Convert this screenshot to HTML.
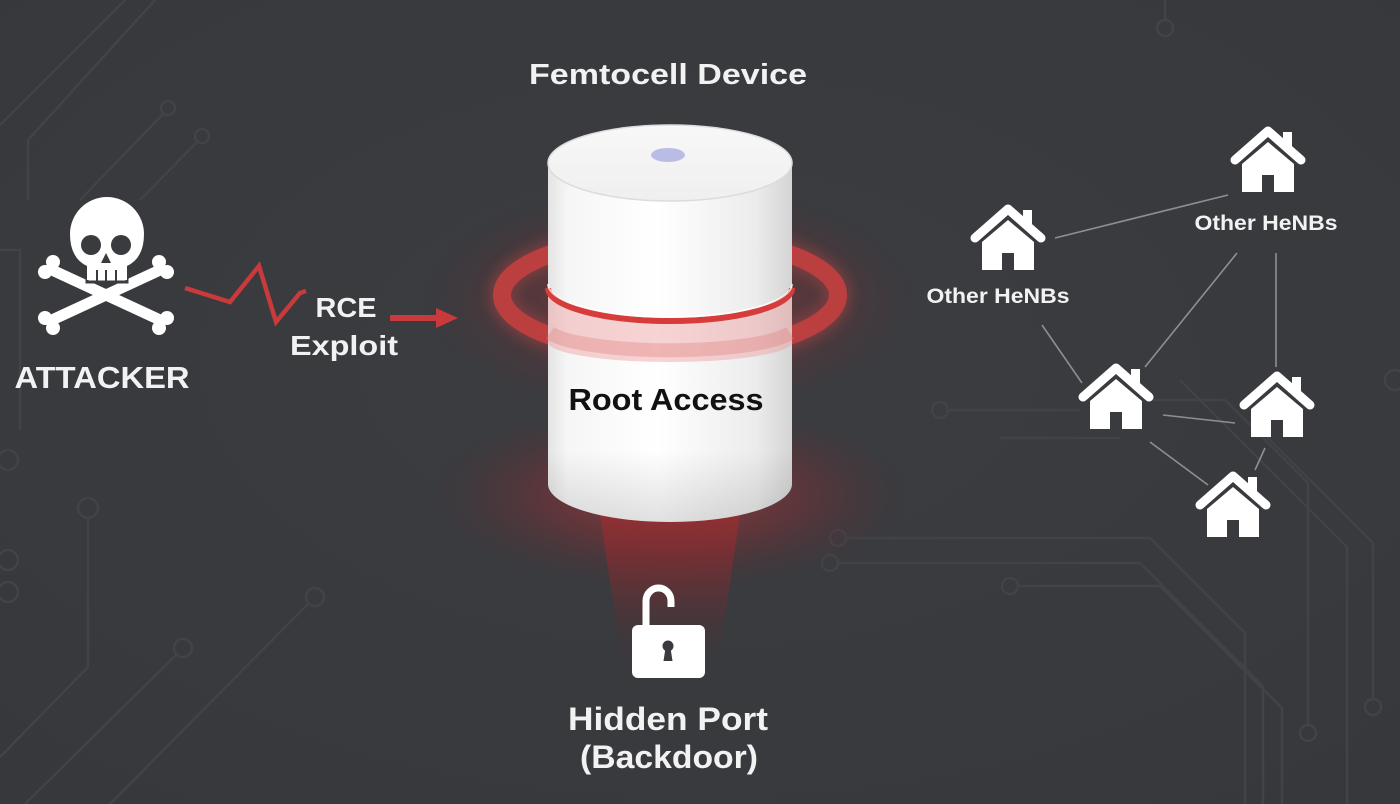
<!DOCTYPE html>
<html><head><meta charset="utf-8"><style>
html,body{margin:0;padding:0;background:#393b3f;}
svg{display:block;}
text{font-family:"Liberation Sans",sans-serif;font-weight:bold;}
</style></head><body>
<svg width="1400" height="804" viewBox="0 0 1400 804" xmlns="http://www.w3.org/2000/svg">
<defs>
  <radialGradient id="bg" cx="50%" cy="45%" r="75%">
    <stop offset="0" stop-color="#3b3d41"/>
    <stop offset="1" stop-color="#36383c"/>
  </radialGradient>
  <radialGradient id="glowMid" cx="50%" cy="50%" r="50%">
    <stop offset="0" stop-color="#b0363a" stop-opacity="0.55"/>
    <stop offset="0.6" stop-color="#8a2e33" stop-opacity="0.3"/>
    <stop offset="1" stop-color="#5a2a2e" stop-opacity="0"/>
  </radialGradient>
  <radialGradient id="glowBot" cx="50%" cy="50%" r="50%">
    <stop offset="0" stop-color="#b83a3e" stop-opacity="0.75"/>
    <stop offset="0.55" stop-color="#8a2e33" stop-opacity="0.4"/>
    <stop offset="1" stop-color="#5a2a2e" stop-opacity="0"/>
  </radialGradient>
  <linearGradient id="beam" x1="0" y1="0" x2="0" y2="1">
    <stop offset="0" stop-color="#9a3034" stop-opacity="0.95"/>
    <stop offset="0.5" stop-color="#7a2c30" stop-opacity="0.55"/>
    <stop offset="1" stop-color="#4a2a2e" stop-opacity="0"/>
  </linearGradient>
  <linearGradient id="body" x1="0" y1="0" x2="1" y2="0">
    <stop offset="0" stop-color="#e4e4e4"/>
    <stop offset="0.08" stop-color="#f6f6f6"/>
    <stop offset="0.45" stop-color="#ffffff"/>
    <stop offset="0.85" stop-color="#ececec"/>
    <stop offset="1" stop-color="#d4d4d4"/>
  </linearGradient>
  <linearGradient id="bodyV" x1="0" y1="0" x2="0" y2="1">
    <stop offset="0" stop-color="#000" stop-opacity="0"/>
    <stop offset="0.8" stop-color="#000" stop-opacity="0"/>
    <stop offset="1" stop-color="#000" stop-opacity="0.12"/>
  </linearGradient>
  <linearGradient id="top" x1="0" y1="0" x2="0" y2="1">
    <stop offset="0" stop-color="#f8f8f8"/>
    <stop offset="1" stop-color="#efefef"/>
  </linearGradient>
  <filter id="blur6" x="-30%" y="-30%" width="160%" height="160%"><feGaussianBlur stdDeviation="6"/></filter>
  <g id="house">
    <rect x="15" y="0" width="9" height="16" fill="#fff"/>
    <path d="M-33,28 L0,-1 L33,28" fill="none" stroke="#fff" stroke-width="9" stroke-linecap="round" stroke-linejoin="round"/>
    <path d="M0,10 L-26,32 L-26,60 L-6,60 L-6,43 L6,43 L6,60 L26,60 L26,32 Z" fill="#fff"/>
  </g>
</defs>

<rect width="1400" height="804" fill="url(#bg)"/>

<!-- faint circuit traces -->
<g fill="none" stroke="#414347" stroke-width="2.5">
  <path d="M0,125 L125,0"/>
  <path d="M28,200 L28,140 L155,0"/>
  <circle cx="168" cy="108" r="7"/>
  <path d="M163,114 L80,200"/>
  <circle cx="202" cy="136" r="7"/>
  <path d="M197,142 L140,200"/>
  <circle cx="88" cy="508" r="10"/>
  <path d="M88,518 L88,667 L0,757"/>
  <circle cx="183" cy="648" r="9"/>
  <path d="M176,655 L25,804"/>
  <circle cx="315" cy="597" r="9"/>
  <path d="M308,604 L110,804"/>
  <circle cx="8" cy="460" r="10"/>
  <circle cx="8" cy="560" r="10"/>
  <circle cx="8" cy="592" r="10"/>
  <path d="M0,250 L20,250 L20,430"/>
  <circle cx="838" cy="538" r="8"/>
  <path d="M846,538 L1150,538 L1245,633 L1245,804"/>
  <circle cx="830" cy="563" r="8"/>
  <path d="M838,563 L1140,563 L1263,686 L1263,804"/>
  <circle cx="1010" cy="586" r="8"/>
  <path d="M1018,586 L1160,586 L1282,708 L1282,804"/>
  <path d="M1150,400 L1225,400 L1308,483 L1308,725"/>
  <circle cx="1308" cy="733" r="8"/>
  <path d="M1180,380 L1240,440 L1347,547 L1347,804"/>
  <path d="M1260,430 L1373,543 L1373,700"/>
  <circle cx="1373" cy="707" r="8"/>
  <circle cx="1395" cy="380" r="10"/>
  <circle cx="940" cy="410" r="8"/>
  <path d="M948,410 L1080,410"/>
  <path d="M1000,438 L1120,438"/>
  <path d="M1165,0 L1165,20"/>
  <circle cx="1165" cy="28" r="8"/>
</g>

<!-- red glows -->
<ellipse cx="670" cy="300" rx="250" ry="120" fill="url(#glowMid)"/>
<ellipse cx="670" cy="495" rx="240" ry="95" fill="url(#glowBot)"/>
<polygon points="598,500 742,500 718,665 622,665" fill="url(#beam)"/>

<!-- halo ring (back) -->
<ellipse cx="670" cy="295" rx="168" ry="58" fill="none" stroke="#d0484a" stroke-width="26" opacity="0.35" filter="url(#blur6)"/>
<ellipse cx="670" cy="295" rx="168" ry="58" fill="none" stroke="#c8403f" stroke-width="18" opacity="0.85"/>

<!-- cylinder -->
<path d="M548,163 L548,484 A122,38 0 0 0 792,484 L792,163 Z" fill="url(#body)"/>
<path d="M548,163 L548,484 A122,38 0 0 0 792,484 L792,163 Z" fill="url(#bodyV)"/>
<ellipse cx="670" cy="163" rx="122" ry="38" fill="url(#top)" stroke="#dcdcdc" stroke-width="1.5"/>
<ellipse cx="668" cy="155" rx="17" ry="7" fill="#b9bde6"/>

<!-- pink band -->
<path d="M548,288 A122,33 0 0 0 792,288 L792,343 A122,20 0 0 1 670,362 A122,20 0 0 1 548,343 Z" fill="#ef9d9d" opacity="0.45"/>
<path d="M550,333 A125,24 0 0 0 790,333" fill="none" stroke="#e07a7a" stroke-width="14" opacity="0.35"/>
<path d="M548,288 A122,33 0 0 0 792,288" fill="none" stroke="#d63c3a" stroke-width="6"/>
<path d="M548,284 A122,33 0 0 0 792,284" fill="none" stroke="#ffffff" stroke-width="2" opacity="0.7"/>

<text x="666" y="410" font-size="31" fill="#111" text-anchor="middle" textLength="195" lengthAdjust="spacingAndGlyphs">Root Access</text>

<text x="668" y="84" font-size="29" fill="#f2f2f2" text-anchor="middle" textLength="278" lengthAdjust="spacingAndGlyphs">Femtocell Device</text>

<!-- skull & crossbones -->
<g fill="#fff" stroke="none">
  <g stroke="#fff" stroke-width="11" stroke-linecap="round">
    <line x1="52" y1="270" x2="160" y2="320"/>
    <line x1="160" y1="270" x2="52" y2="320"/>
  </g>
  <circle cx="45" cy="272" r="7"/><circle cx="53" cy="262" r="7"/>
  <circle cx="167" cy="318" r="7"/><circle cx="159" cy="328" r="7"/>
  <circle cx="167" cy="272" r="7"/><circle cx="159" cy="262" r="7"/>
  <circle cx="45" cy="318" r="7"/><circle cx="53" cy="328" r="7"/>
  <path d="M87,282 L87,266 Q70,258 70,234 A37,37 0 0 1 144,234 Q144,258 127,266 L127,282 Z" stroke="#393b3f" stroke-width="3"/>
  <path d="M87,280 L87,266 Q70,258 70,234 A37,37 0 0 1 144,234 Q144,258 127,266 L127,280 Z"/>
</g>
<circle cx="91" cy="245" r="10" fill="#393b3f"/>
<circle cx="121" cy="245" r="10" fill="#393b3f"/>
<path d="M106,253 L101,263 L111,263 Z" fill="#393b3f"/>
<g stroke="#393b3f" stroke-width="2">
  <line x1="97" y1="270" x2="97" y2="281"/>
  <line x1="106" y1="270" x2="106" y2="281"/>
  <line x1="116" y1="270" x2="116" y2="281"/>
</g>
<text x="102" y="388" font-size="31" fill="#f2f2f2" text-anchor="middle" textLength="175" lengthAdjust="spacingAndGlyphs">ATTACKER</text>

<!-- lightning -->
<path d="M185,288 L230,302 L259,266 L276,322 L300,293 L306,291" fill="none" stroke="#c93a3c" stroke-width="4.5" stroke-linejoin="miter"/>
<text x="346" y="317" font-size="28" fill="#f2f2f2" text-anchor="middle" textLength="61" lengthAdjust="spacingAndGlyphs">RCE</text>
<text x="344" y="355" font-size="28" fill="#f2f2f2" text-anchor="middle" textLength="108" lengthAdjust="spacingAndGlyphs">Exploit</text>
<line x1="390" y1="318" x2="440" y2="318" stroke="#c93a3c" stroke-width="6"/>
<polygon points="436,308 458,318 436,328" fill="#c93a3c"/>

<!-- lock -->
<path d="M646,627 L646,601 A12.5,13 0 0 1 671,601 L671,607" fill="none" stroke="#fff" stroke-width="7"/>
<rect x="632" y="625" width="73" height="53" rx="6" fill="#fff"/>
<circle cx="668" cy="646" r="5.5" fill="#393b3f"/>
<path d="M665.5,648 L663.5,661 L672.5,661 L670.5,648 Z" fill="#393b3f"/>
<text x="668" y="730" font-size="32" fill="#f2f2f2" text-anchor="middle" textLength="200" lengthAdjust="spacingAndGlyphs">Hidden Port</text>
<text x="669" y="768" font-size="32" fill="#f2f2f2" text-anchor="middle" textLength="178" lengthAdjust="spacingAndGlyphs">(Backdoor)</text>

<!-- network lines -->
<g stroke="#8d8f93" stroke-width="1.6">
  <line x1="1055" y1="238" x2="1228" y2="195"/>
  <line x1="1042" y1="325" x2="1082" y2="383"/>
  <line x1="1237" y1="253" x2="1145" y2="367"/>
  <line x1="1276" y1="253" x2="1276" y2="367"/>
  <line x1="1163" y1="415" x2="1235" y2="423"/>
  <line x1="1150" y1="442" x2="1208" y2="485"/>
  <line x1="1265" y1="448" x2="1255" y2="470"/>
</g>

<!-- houses -->
<use href="#house" x="1268" y="132"/>
<use href="#house" x="1008" y="210"/>
<use href="#house" x="1116" y="369"/>
<use href="#house" x="1277" y="377"/>
<use href="#house" x="1233" y="477"/>

<text x="1266" y="230" font-size="21" fill="#f2f2f2" text-anchor="middle" textLength="143" lengthAdjust="spacingAndGlyphs">Other HeNBs</text>
<text x="998" y="303" font-size="21" fill="#f2f2f2" text-anchor="middle" textLength="143" lengthAdjust="spacingAndGlyphs">Other HeNBs</text>
</svg>
</body></html>
